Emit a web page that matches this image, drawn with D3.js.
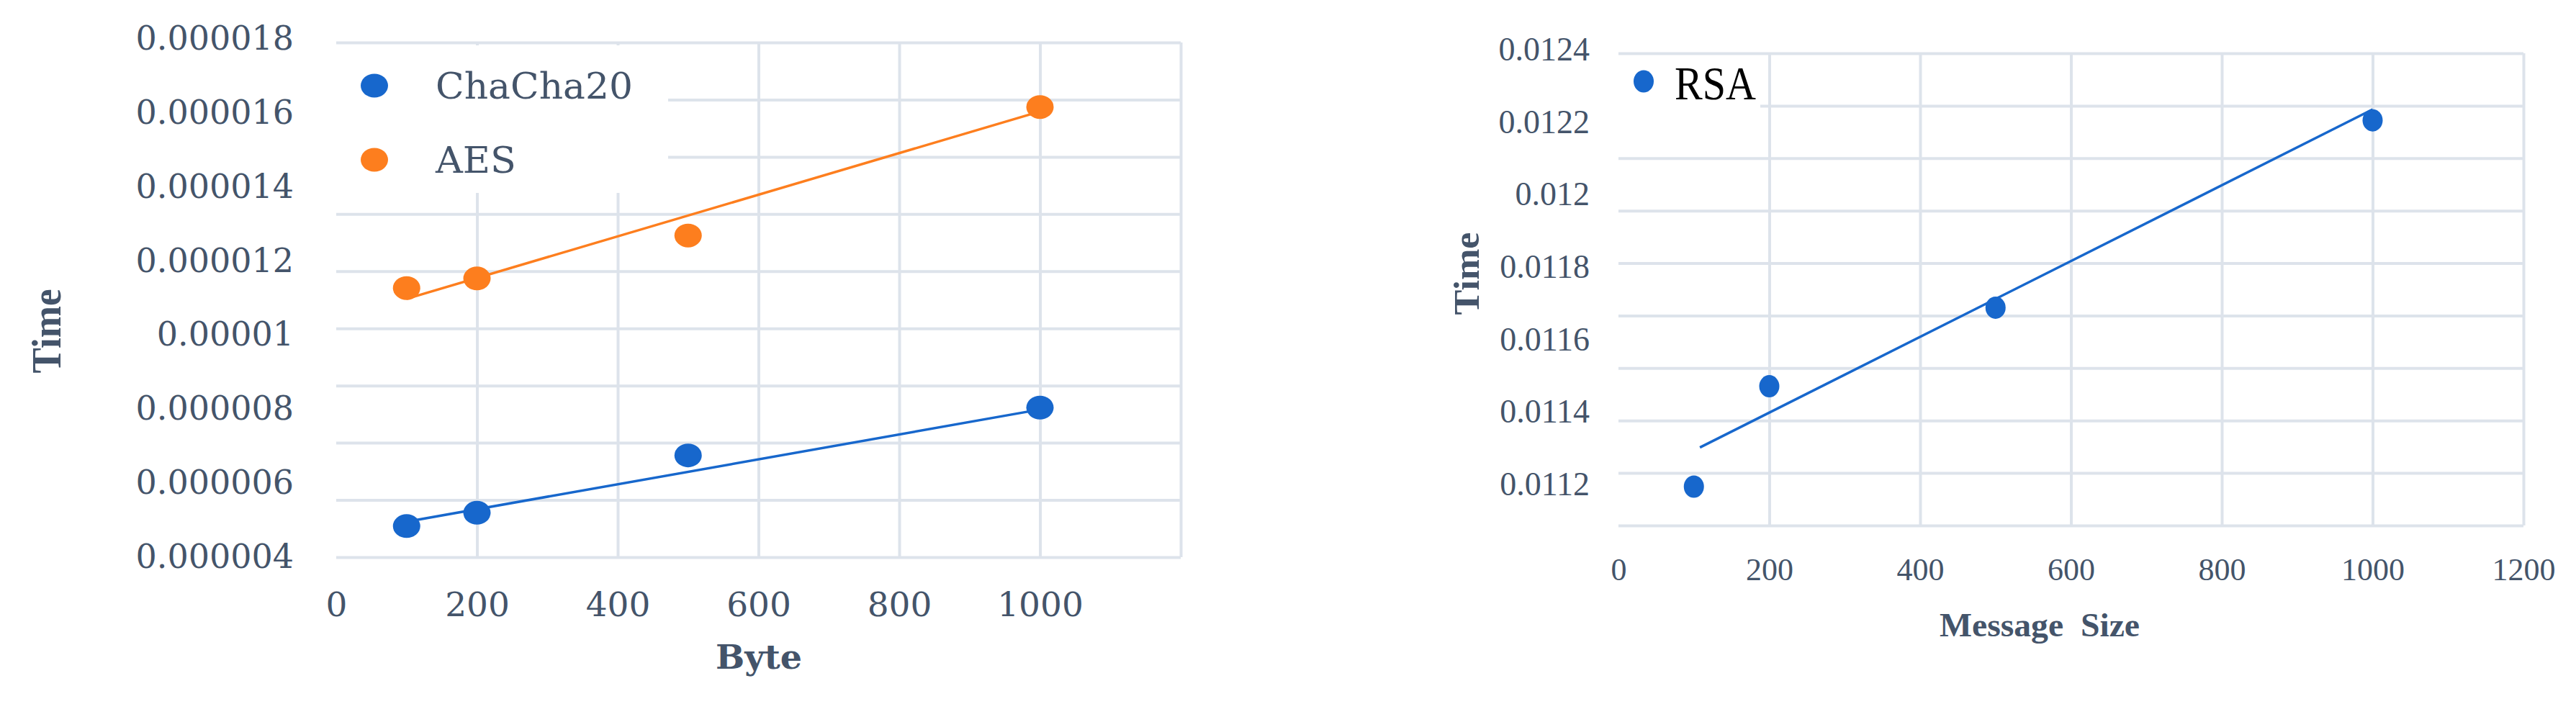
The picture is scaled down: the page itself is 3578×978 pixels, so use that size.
<!DOCTYPE html>
<html>
<head>
<meta charset="utf-8">
<script src="https://cdn.jsdelivr.net/npm/d3@7"></script>
<style>
  body { margin: 0; background: #fff; }
  svg { display: block; }
  .grid line { stroke: #dde3eb; stroke-width: 4; }
  .grid .domain { display: none; }
  .tick-lbl .domain { display: none; }
  .tick-lbl text { fill: #44546a; }
</style>
</head>
<body>
<div id="chart"></div>
<script>
// ---- data ----
var byteSizes = [100, 200, 500, 1000];
var chachaTime = [0.00000480, 0.00000516, 0.00000671, 0.00000800];
var aesTime = [0.00001123, 0.00001149, 0.00001265, 0.00001612];
// excel-style linear trendlines, end points
var chachaTrend = [[100, 0.00000492], [1000, 0.00000795]];
var aesTrend = [[100, 0.00001094], [1000, 0.00001600]];
var byteTicks = [0, 200, 400, 600, 800, 1000];
var timeTicks1 = ["0.000004", "0.000006", "0.000008", "0.00001", "0.000012", "0.000014", "0.000016", "0.000018"];

var msgSizes = [100, 200, 500, 1000];
var rsaTime = [0.011192, 0.011469, 0.011686, 0.012203];
var rsaTrend = [[108, 0.011300], [1000, 0.012233]];
var msgTicks = [0, 200, 400, 600, 800, 1000, 1200];
var timeTicks2 = ["0.0112", "0.0114", "0.0116", "0.0118", "0.012", "0.0122", "0.0124"];

var blue = "#1767cc", orange = "#fd7e1e", textCol = "#44546a";

var svg = d3.select("#chart").append("svg")
    .attr("width", 3578)
    .attr("height", 978);

function drawGrid(g, xScale, top, bottom, left, right, vTicks) {
    var rowScale = d3.scaleLinear().domain([0, 9]).range([bottom, top]);
    g.append("g")
        .attr("class", "grid")
        .attr("transform", "translate(" + left + ",0)")
        .call(d3.axisLeft(rowScale).tickValues(d3.range(10)).tickSize(-(right - left)).tickFormat(""));
    g.append("g")
        .attr("class", "grid")
        .attr("transform", "translate(0," + bottom + ")")
        .call(d3.axisBottom(xScale).tickValues(vTicks).tickSize(-(bottom - top)).tickFormat(""));
}

function drawSeries(g, xScale, yScale, xs, ys, trend, color, rx, ry) {
    var line = d3.line()
        .x(function(d) { return xScale(d[0]); })
        .y(function(d) { return yScale(d[1]); });
    g.append("path")
        .attr("d", line(trend))
        .attr("fill", "none")
        .attr("stroke", color)
        .attr("stroke-width", 3.5);
    g.selectAll(null)
        .data(xs.map(function(x, i) { return [x, ys[i]]; }))
        .enter().append("ellipse")
        .attr("cx", function(d) { return xScale(d[0]); })
        .attr("cy", function(d) { return yScale(d[1]); })
        .attr("rx", rx)
        .attr("ry", ry)
        .attr("fill", color);
}

// ================= left chart: ChaCha20 / AES =================
(function() {
    var left = 467, right = 1640, top = 59, bottom = 774;
    var g = svg.append("g");

    var x = d3.scaleLinear().domain([0, 1200]).range([left, right]);
    var y = d3.scaleLinear().domain([0.000004, 0.000018]).range([772, 52]);

    drawGrid(g, x, top, bottom, left, right, [200, 400, 600, 800, 1000, 1200]);

    // legend box sits on top of the grid
    g.append("rect")
        .attr("x", left).attr("y", 63)
        .attr("width", 461).attr("height", 205)
        .attr("fill", "#fff");

    drawSeries(g, x, y, byteSizes, chachaTime, chachaTrend, blue, 19, 16.5);
    drawSeries(g, x, y, byteSizes, aesTime, aesTrend, orange, 19, 16.5);

    var yAxis = g.append("g")
        .attr("class", "tick-lbl")
        .attr("transform", "translate(408,0)")
        .call(d3.axisLeft(y).tickValues(timeTicks1.map(Number)).tickSize(0).tickPadding(0)
            .tickFormat(function(d, i) { return timeTicks1[i]; }));
    yAxis.selectAll("text")
        .style("font", "46px 'DejaVu Serif'")
        .attr("dy", "0.36em");

    var xAxis = g.append("g")
        .attr("class", "tick-lbl")
        .attr("transform", "translate(0,839)")
        .call(d3.axisBottom(x).tickValues(byteTicks).tickSize(0).tickFormat(d3.format("d")));
    xAxis.selectAll("text")
        .style("font", "47px 'DejaVu Serif'")
        .attr("y", 0)
        .attr("dy", "0.36em");

    g.append("text")
        .attr("x", 1054).attr("y", 929)
        .attr("text-anchor", "middle")
        .attr("fill", textCol)
        .attr("textLength", 120)
        .attr("lengthAdjust", "spacingAndGlyphs")
        .style("font", "bold 47px 'DejaVu Serif'")
        .text("Byte");

    g.append("text")
        .attr("transform", "translate(84,460) rotate(-90)")
        .attr("text-anchor", "middle")
        .attr("fill", textCol)
        .attr("textLength", 117)
        .attr("lengthAdjust", "spacingAndGlyphs")
        .style("font", "bold 57px 'Liberation Serif'")
        .text("Time");

    var legend = [["ChaCha20", blue, 119, 274], ["AES", orange, 222, 112]];
    legend.forEach(function(l) {
        g.append("ellipse")
            .attr("cx", 520).attr("cy", l[2])
            .attr("rx", 19).attr("ry", 16.5)
            .attr("fill", l[1]);
        g.append("text")
            .attr("x", 605).attr("y", l[2])
            .attr("dy", "0.36em")
            .attr("fill", textCol)
            .attr("textLength", l[3])
            .attr("lengthAdjust", "spacingAndGlyphs")
            .style("font", "50px 'DejaVu Serif'")
            .text(l[0]);
    });
})();

// ================= right chart: RSA =================
(function() {
    var left = 2248, right = 3505, top = 74, bottom = 730;
    var g = svg.append("g");

    var x = d3.scaleLinear().domain([0, 1200]).range([left, right]);
    var y = d3.scaleLinear().domain([0.0112, 0.0124]).range([672, 68]);

    drawGrid(g, x, top, bottom, left, right, [200, 400, 600, 800, 1000, 1200]);

    g.append("rect")
        .attr("x", left).attr("y", 77)
        .attr("width", 197).attr("height", 74)
        .attr("fill", "#fff");

    drawSeries(g, x, y, msgSizes, rsaTime, rsaTrend, blue, 14, 15.5);

    var yAxis = g.append("g")
        .attr("class", "tick-lbl")
        .attr("transform", "translate(2208,0)")
        .call(d3.axisLeft(y).tickValues(timeTicks2.map(Number)).tickSize(0).tickPadding(0)
            .tickFormat(function(d, i) { return timeTicks2[i]; }));
    yAxis.selectAll("text")
        .style("font", "46px 'Liberation Serif'")
        .attr("dy", "0.34em");

    var xAxis = g.append("g")
        .attr("class", "tick-lbl")
        .attr("transform", "translate(0,791)")
        .call(d3.axisBottom(x).tickValues(msgTicks).tickSize(0).tickFormat(d3.format("d")));
    xAxis.selectAll("text")
        .style("font", "44px 'Liberation Serif'")
        .attr("y", 0)
        .attr("dy", "0.34em");

    g.append("text")
        .attr("x", 2833).attr("y", 884)
        .attr("text-anchor", "middle")
        .attr("fill", textCol)
        .attr("textLength", 278)
        .attr("lengthAdjust", "spacingAndGlyphs")
        .style("font", "bold 47px 'Liberation Serif'")
        .style("white-space", "pre")
        .text("Message  Size");

    g.append("text")
        .attr("transform", "translate(2054,380) rotate(-90)")
        .attr("text-anchor", "middle")
        .attr("fill", textCol)
        .attr("textLength", 115)
        .attr("lengthAdjust", "spacingAndGlyphs")
        .style("font", "bold 51px 'Liberation Serif'")
        .text("Time");

    g.append("ellipse")
        .attr("cx", 2283).attr("cy", 113)
        .attr("rx", 14).attr("ry", 15.5)
        .attr("fill", blue);
    g.append("text")
        .attr("x", 2326).attr("y", 138)
        .attr("fill", "#000")
        .attr("textLength", 113)
        .attr("lengthAdjust", "spacingAndGlyphs")
        .style("font", "66px 'Liberation Serif'")
        .text("RSA");
})();
</script>
</body>
</html>
